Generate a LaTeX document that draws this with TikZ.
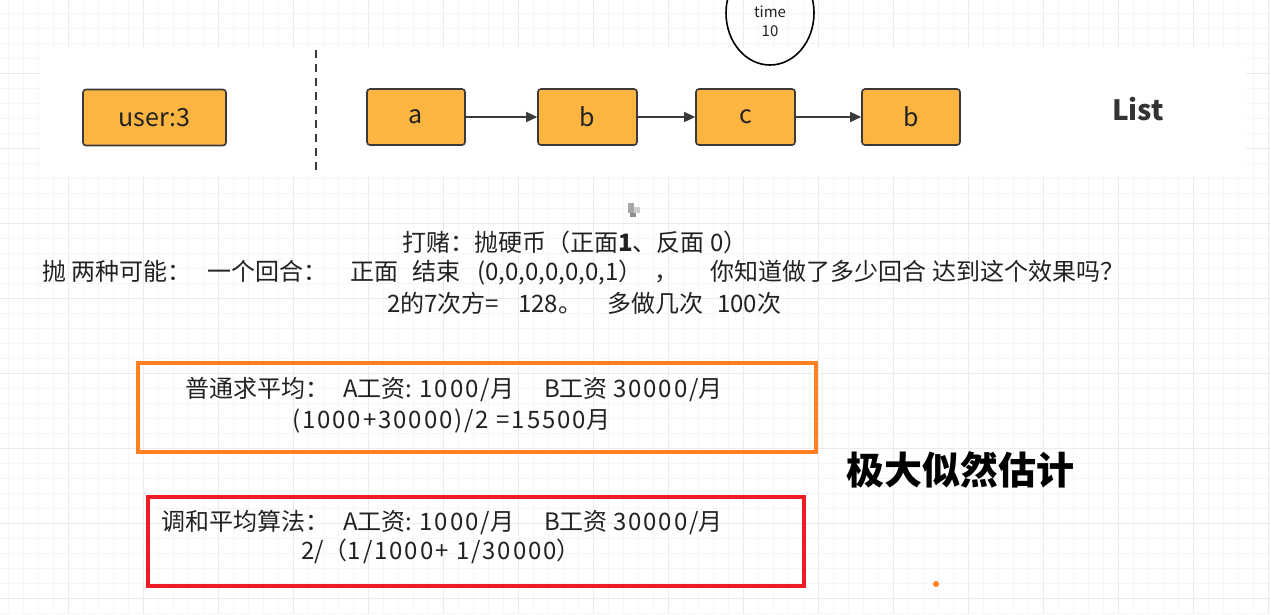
\documentclass[tikz,border=0pt]{standalone}
\usepackage{fontspec}
\setmainfont{Noto Sans CJK SC}
\usetikzlibrary{arrows.meta,shapes.geometric}
\definecolor{boxfill}{HTML}{FDB541}
\definecolor{boxdraw}{HTML}{3A3A3A}
\definecolor{orangeframe}{HTML}{FF8021}
\definecolor{redframe}{HTML}{EE1C25}
\definecolor{txt}{HTML}{222222}
\definecolor{gridminor}{HTML}{F6F6F6}
\definecolor{gridmajor}{HTML}{EBEBEB}
\newcommand{\wdg}[1]{{\addfontfeature{LetterSpace=8}#1}}
\tikzset{
  listbox/.style={draw=boxdraw, fill=boxfill, line width=1.6pt, rounded corners=3pt, minimum height=56pt, inner sep=0pt, font=\fontsize{25}{27}\selectfont, text=txt},
  link/.style={draw=boxdraw, line width=1.4pt, -{Triangle[length=11pt,width=10pt]}},
  bodytext/.style={font=\fontsize{24}{30}\selectfont, text=txt, align=center, inner sep=0pt},
}
\begin{document}
\begin{tikzpicture}[x=1pt,y=-1pt]
\useasboundingbox (0,0) rectangle (1271,614);
\fill[white] (0,0) rectangle (1271,614);
% grid
\foreach \x in {8,23,...,1271} \draw[gridminor, line width=0.8pt] (\x,0) -- (\x,614);
\foreach \y in {13,28,...,614} \draw[gridminor, line width=0.8pt] (0,\y) -- (1271,\y);
\foreach \x in {68,143,...,1271} \draw[gridmajor, line width=1pt] (\x,0) -- (\x,614);
\foreach \y in {73,148,...,614} \draw[gridmajor, line width=1pt] (0,\y) -- (1271,\y);
% white pasted panel
\fill[white] (40,48) rectangle (1246,176);

% time circle
\node[draw=black, line width=1.6pt, ellipse, minimum width=88pt, minimum height=104pt, inner sep=0pt] (timer) at (770,13) {};
\node[font=\fontsize{15}{19}\selectfont, text=txt, align=center, inner sep=0pt] (timetxt) at (770,21) {time\\10};

% list boxes
\node[listbox, minimum width=143pt] (user) at (154.5,117.5) {user:3};
\node[listbox, minimum width=98pt] (a) at (416,117) {a};
\node[listbox, minimum width=99pt] (b1) at (587.5,117) {b};
\node[listbox, minimum width=99pt] (c) at (745.5,117) {c};
\node[listbox, minimum width=98pt] (b2) at (911,117) {b};
\draw[link] (a) -- (b1);
\draw[link] (b1) -- (c);
\draw[link] (c) -- (b2);
\coordinate (dtop) at (316,50);
\coordinate (dbot) at (316,170);
\draw[boxdraw, line width=1.8pt, dash pattern=on 8pt off 6pt] (dtop) -- (dbot);
\node[font=\fontsize{28}{30}\selectfont\bfseries, text=black!80, inner sep=0pt] (list) at (1138,109) {List};

% small cursor artefact
\fill[gray!70] (628,203) rectangle (634,213);
\fill[gray!40] (634,207) rectangle (640,213);
\fill[gray!90] (630,213) rectangle (636,217);

% coin text
\node[bodytext, anchor=west] (line1) at (402,242) {打赌：抛硬币（正面\textbf{1}、反面 0）};
\node[bodytext, anchor=west] (line2) at (42,273) {抛 两种可能：\hspace{16pt}一个回合：\hspace{23pt}正面\hspace{14pt}结束\hspace{17pt}(0,0,0,0,0,0,1）\hspace{12pt}，\hspace{32pt}你知道做了多少回合 达到这个效果吗？};
\node[bodytext, anchor=west] (line3) at (387,303) {2的7次方=\hspace{19pt}128。\hspace{25pt}多做几次\hspace{14pt}100次};

% frames
\draw[orangeframe, line width=3.2pt] (138,363) rectangle (816,452);
\node[bodytext, anchor=west] (avg1) at (185,390) {普通求平均：\hspace{14pt}A工资: \wdg{1000/}月\hspace{30pt}B工资 \wdg{30000/}月};
\node[bodytext, anchor=west] (avg2) at (292,421) {\wdg{(1000+30000)/2 =15500}月};

\draw[redframe, line width=3.2pt] (148,497) rectangle (804,586);
\node[bodytext, anchor=west] (harm1) at (161,522) {调和平均算法：\hspace{14pt}A工资: \wdg{1000/}月\hspace{30pt}B工资 \wdg{30000/}月};
\node[bodytext, anchor=west] (harm2) at (301,551) {2/（\wdg{1/1000+ 1/30000}）};

\node[font=\fontsize{38}{40}\selectfont\bfseries, text=black, inner sep=0pt] (mle) at (960,470) {极大似然估计};
\fill[orangeframe] (936,584) circle (3pt);
\end{tikzpicture}
\end{document}
